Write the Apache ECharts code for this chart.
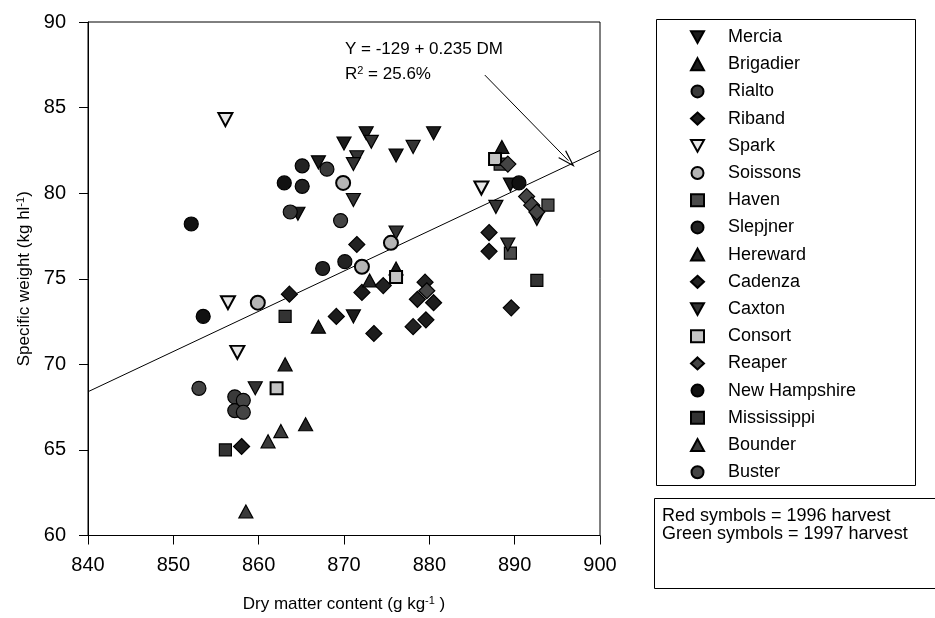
<!DOCTYPE html>
<html>
<head>
<meta charset="utf-8">
<script src="https://cdn.jsdelivr.net/npm/echarts@6/dist/echarts.min.js"></script>
<style>
html,body{margin:0;padding:0;background:#fff;}
#chart{width:935px;height:618px;}
</style>
</head>
<body>
<div id="chart"></div>
<script>
// ---- data (dry matter g/kg, specific weight kg/hl) ----
const mercia      = [[867.0,81.8],[872.6,83.5],[870.0,82.9],[880.5,83.5],[876.1,82.2],[871.1,72.8],[889.5,80.5],[864.6,78.8]];
const brigadier   = [[888.5,82.7],[867.0,72.2],[876.1,75.6]];
const rialto      = [[868.0,81.4],[863.7,78.9],[857.2,68.1],[857.2,67.3]];
const riband      = [[863.6,74.1],[872.1,74.2],[869.1,72.8],[873.5,71.8],[880.5,73.6],[879.6,72.6],[887.0,76.6],[858.0,65.2]];
const spark       = [[856.1,84.3],[886.1,80.3],[856.4,73.6],[857.5,70.7]];
const soissons    = [[869.9,80.6],[875.5,77.1],[872.1,75.7],[859.9,73.6]];
const haven       = [[889.5,76.5],[893.9,79.3],[888.3,81.7]];
const slepjner    = [[865.1,81.6],[865.1,80.4],[867.5,75.6],[870.1,76.0]];
const hereward    = [[873.0,74.9],[863.1,70.0],[865.5,66.5]];
const cadenza     = [[871.5,77.0],[874.6,74.6],[879.5,74.8],[878.6,73.8],[878.1,72.2],[887.0,77.7],[889.6,73.3]];
const caxton      = [[873.2,83.0],[878.1,82.7],[871.5,82.1],[871.1,81.7],[871.1,79.6],[876.1,77.7],[892.6,78.5],[887.8,79.2],[859.6,68.6],[889.2,77.0]];
const consort     = [[862.1,68.6],[887.7,82.0],[876.1,75.1]];
const reaper      = [[879.7,74.3],[891.4,79.8],[892.0,79.3],[889.2,81.7],[892.6,78.9]];
const newHampshire= [[863.0,80.6],[852.1,78.2],[853.5,72.8],[890.5,80.6]];
const mississippi = [[863.1,72.8],[856.1,65.0],[892.6,74.9]];
const bounder     = [[862.6,66.1],[861.1,65.5],[858.5,61.4]];
const buster      = [[869.6,78.4],[853.0,68.6],[858.2,67.9],[858.2,67.2]];

const varieties = ['Mercia','Brigadier','Rialto','Riband','Spark','Soissons','Haven','Slepjner',
  'Hereward','Cadenza','Caxton','Consort','Reaper','New Hampshire','Mississippi','Bounder','Buster'];
const varietyData = [mercia,brigadier,rialto,riband,spark,soissons,haven,slepjner,
  hereward,cadenza,caxton,consort,reaper,newHampshire,mississippi,bounder,buster];

// regression Y = -129 + 0.235 DM
const regIntercept = -129;
const regSlope = 0.235;
const xRange = [840, 900];
const yRange = [60, 90];
const arrowFromTo = [[886.5, 86.9], [896.3, 81.9]];

// ---- styles ----
const FONT = 'Liberation Sans, Arial, Helvetica, sans-serif';
const DOWN = 'path://M0,0 L20,0 L10,18 Z';
const TRI = [14, 13];
const styleMap = {
  'Mercia':       {symbol:DOWN,       size:TRI, fill:'#1c1c1c', bw:1.2},
  'Brigadier':    {symbol:'triangle', size:TRI, fill:'#1c1c1c', bw:1.2},
  'Rialto':       {symbol:'circle',   size:14, fill:'#3a3a3a', bw:1.2},
  'Riband':       {symbol:'diamond',  size:16, fill:'#1c1c1c', bw:1.2},
  'Spark':        {symbol:DOWN,       size:TRI, fill:'#e6e6e6', bw:2},
  'Soissons':     {symbol:'circle',   size:14, fill:'#b5b5b5', bw:2},
  'Haven':        {symbol:'rect',     size:12, fill:'#4a4a4a', bw:1.2},
  'Slepjner':     {symbol:'circle',   size:14, fill:'#222222', bw:1.2},
  'Hereward':     {symbol:'triangle', size:TRI, fill:'#262626', bw:1.2},
  'Cadenza':      {symbol:'diamond',  size:16, fill:'#222222', bw:1.2},
  'Caxton':       {symbol:DOWN,       size:TRI, fill:'#333333', bw:1.2},
  'Consort':      {symbol:'rect',     size:12, fill:'#c4c4c4', bw:2},
  'Reaper':       {symbol:'diamond',  size:16, fill:'#444444', bw:1.2},
  'New Hampshire':{symbol:'circle',   size:14, fill:'#111111', bw:1.2},
  'Mississippi':  {symbol:'rect',     size:12, fill:'#333333', bw:1.2},
  'Bounder':      {symbol:'triangle', size:TRI, fill:'#3a3a3a', bw:1.2},
  'Buster':       {symbol:'circle',   size:14, fill:'#444444', bw:1.2}
};
const legendSize = {triangle:[13,12], circle:12, diamond:14, rect:11};

const series = [];
series.push({
  name: 'fit',
  type: 'line',
  data: xRange.map(x => [x, regIntercept + regSlope * x]),
  symbol: 'none',
  silent: true,
  lineStyle: {color:'#000', width:1},
  z: 1,
  markLine: {
    silent: true,
    symbol: ['none', 'path://M0,12 L6,0 L12,12 L10.6,12 L6,2.6 L1.4,12 Z'],
    symbolSize: [11, 18],
    label: {show:false},
    lineStyle: {color:'#000', width:1, type:'solid'},
    data: [[{coord: arrowFromTo[0]}, {coord: arrowFromTo[1]}]]
  }
});
varieties.forEach((name, i) => {
  const s = styleMap[name];
  series.push({
    name: name,
    type: 'scatter',
    data: varietyData[i],
    symbol: s.symbol,
    symbolSize: s.size,
    itemStyle: {color: s.fill, borderColor:'#000', borderWidth:s.bw, opacity:1},
    z: 3
  });
});

const chart = echarts.init(document.getElementById('chart'), null, {renderer:'canvas'});
chart.setOption({
  animation: false,
  backgroundColor: '#fff',
  textStyle: {fontFamily: FONT},
  grid: {left:88, right:335, top:22, bottom:81, show:true, borderColor:'#000', borderWidth:1, backgroundColor:'transparent'},
  xAxis: {
    type:'value', min:xRange[0], max:xRange[1], interval:10,
    axisLine:{show:true, onZero:false, lineStyle:{color:'#000', width:1}},
    axisTick:{show:true, inside:false, length:9, lineStyle:{color:'#000'}},
    axisLabel:{color:'#000', fontSize:20, margin:20, fontFamily:FONT},
    splitLine:{show:false},
    name:'Dry matter content (g kg{sup|-1} )',
    nameLocation:'middle', nameGap:60,
    nameTextStyle:{color:'#000', fontSize:17, fontFamily:FONT,
      rich:{sup:{fontSize:11, verticalAlign:'top', padding:[0,0,7,0], color:'#000', fontFamily:FONT}}}
  },
  yAxis: {
    type:'value', min:yRange[0], max:yRange[1], interval:5,
    axisLine:{show:true, onZero:false, lineStyle:{color:'#000', width:1}},
    axisTick:{show:true, inside:false, length:9, lineStyle:{color:'#000'}},
    axisLabel:{color:'#000', fontSize:20, margin:22, fontFamily:FONT},
    splitLine:{show:false},
    name:'Specific weight (kg hl{sup|-1})',
    nameLocation:'middle', nameGap:55,
    nameTextStyle:{color:'#000', fontSize:17, fontFamily:FONT,
      rich:{sup:{fontSize:11, verticalAlign:'top', padding:[0,0,7,0], color:'#000', fontFamily:FONT}}}
  },
  legend: {
    data: varieties,
    orient:'vertical',
    left:690, top:28,
    padding:0,
    itemWidth:13, itemHeight:12,
    itemGap:9.2,
    selectedMode:false,
    formatter: name => '{p|}' + name,
    textStyle:{color:'#000', fontSize:18, lineHeight:18, fontFamily:FONT,
      rich:{p:{width:19}}}
  },
  graphic: [
    {type:'rect', left:654, top:17, shape:{width:259, height:466}, style:{fill:'none', stroke:'#000', lineWidth:1}, silent:true},
    {type:'rect', left:652, top:496, shape:{width:282, height:90}, style:{fill:'none', stroke:'#000', lineWidth:1}, silent:true},
    {type:'text', left:662, top:507, style:{text:'Red symbols = 1996 harvest', font:'18px ' + FONT, fill:'#000'}},
    {type:'text', left:662, top:525, style:{text:'Green symbols = 1997 harvest', font:'18px ' + FONT, fill:'#000'}},
    {type:'text', left:345, top:41, style:{text:'Y = -129 + 0.235 DM', font:'17px ' + FONT, fill:'#000'}},
    {type:'text', left:345, top:65, style:{
      text:'R{s|2} = 25.6%', font:'17px ' + FONT, fill:'#000',
      rich:{s:{fontSize:11, verticalAlign:'top', padding:[0,0,7,0], fill:'#000', fontFamily:FONT}}}}
  ],
  series: series
});
</script>
</body>
</html>
